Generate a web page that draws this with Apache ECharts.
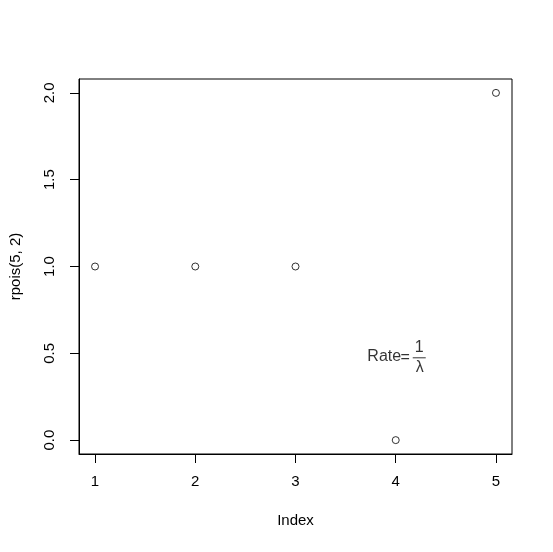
<!DOCTYPE html>
<html>
<head>
<meta charset="utf-8">
<script src="https://cdn.jsdelivr.net/npm/echarts@6/dist/echarts.min.js"></script>
<style>html,body{margin:0;padding:0;background:#fff}#c{width:553px;height:552px}</style>
</head>
<body>
<div id="c"></div>
<script>
const indexValues = [1, 2, 3, 4, 5];
const counts = [1, 1, 1, 0, 2];
const xTicks = [1, 2, 3, 4, 5];
const yTicks = [0, 0.5, 1, 1.5, 2];
const yTickLabels = ['0.0', '0.5', '1.0', '1.5', '2.0'];
const annotation = [4, 0.5];
const annotationTexts = ['Rate', '=', '1', 'λ'];

const FONT = 'Liberation Sans, Arial, sans-serif';
const chart = echarts.init(document.getElementById('c'), null, {renderer: 'canvas'});

const partOffsets = [[-11.5, 3.5], [9.5, 4], [23.5, -6], [24, 14.5]];
const annSeries = annotationTexts.map((t, i) => ({
  type: 'scatter',
  data: [annotation],
  symbol: 'circle', symbolSize: 0,
  itemStyle: {color: 'transparent'},
  emphasis: {disabled: true},
  silent: true,
  label: {show: true, position: 'inside', formatter: t, offset: partOffsets[i],
    fontFamily: FONT, fontSize: 16, color: '#000', align: 'center', verticalAlign: 'middle'}
}));
annSeries.push({
  type: 'scatter',
  data: [annotation],
  symbol: 'circle', symbolSize: 0,
  itemStyle: {color: 'transparent'},
  emphasis: {disabled: true},
  silent: true,
  label: {show: true, position: 'inside', formatter: ' ', offset: [23.5, 4.5],
    width: 13, height: 1, lineHeight: 1, fontSize: 1, padding: 0, backgroundColor: '#000',
    align: 'center', verticalAlign: 'middle'}
});

chart.setOption({
  animation: false,
  backgroundColor: '#fff',
  grid: {left: 78, right: 41, top: 79, bottom: 98, show: true, borderColor: '#000', borderWidth: 1, backgroundColor: 'transparent'},
  xAxis: {
    type: 'value', min: 0.84, max: 5.16,
    name: 'Index', nameLocation: 'middle', nameGap: 59,
    nameTextStyle: {fontFamily: FONT, fontSize: 15, color: '#000'},
    axisLine: {show: true, onZero: false, lineStyle: {color: '#000', width: 1}},
    splitLine: {show: false},
    axisTick: {show: true, length: 9, customValues: xTicks, lineStyle: {color: '#000', width: 1}},
    axisLabel: {customValues: xTicks, margin: 20, fontFamily: FONT, fontSize: 15, color: '#000',
      formatter: v => String(v)}
  },
  yAxis: {
    type: 'value', min: -0.08, max: 2.08,
    name: 'rpois(5, 2)', nameLocation: 'middle', nameGap: 56,
    nameTextStyle: {fontFamily: FONT, fontSize: 15, color: '#000'},
    axisLine: {show: true, onZero: false, lineStyle: {color: '#000', width: 1}},
    splitLine: {show: false},
    axisTick: {show: true, length: 9, customValues: yTicks, lineStyle: {color: '#000', width: 1}},
    axisLabel: {customValues: yTicks, rotate: 90, margin: 22, fontFamily: FONT, fontSize: 15, color: '#000',
      formatter: v => yTickLabels[yTicks.indexOf(v)] !== undefined ? yTickLabels[yTicks.indexOf(v)] : v.toFixed(1)}
  },
  series: [
    {
      type: 'scatter',
      data: indexValues.map((x, i) => [x, counts[i]]),
      symbol: 'circle', symbolSize: 7,
      itemStyle: {color: 'transparent', borderColor: '#000', borderWidth: 1},
      emphasis: {disabled: true}
    }
  ].concat(annSeries)
});
</script>
</body>
</html>
